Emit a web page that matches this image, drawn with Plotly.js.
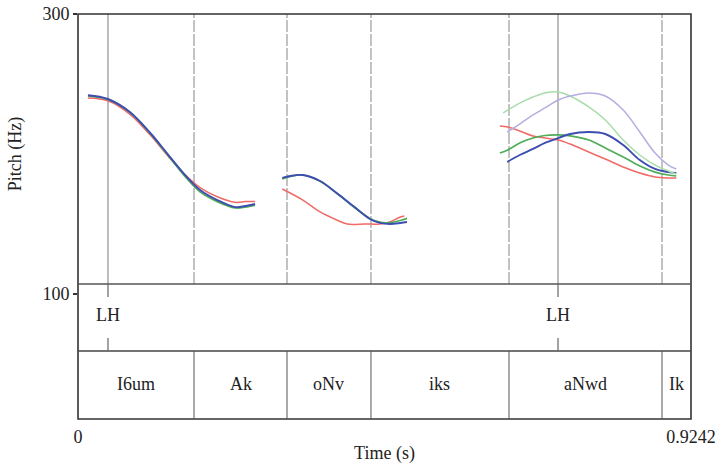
<!DOCTYPE html>
<html>
<head>
<meta charset="utf-8">
<script src="https://cdn.plot.ly/plotly-3.0.1.min.js"></script>
<style>html,body{margin:0;padding:0;background:#fff;}#chart{width:716px;height:464px;}</style>
</head>
<body>
<div id="chart"></div>
<script>
// ---- data ----
const totalDuration = 0.9242;
const pitchRange = [100, 300];

// time samples of each voiced stretch (s)
const seg1Time    = [0.015,0.045,0.078,0.109,0.134,0.164,0.184,0.210,0.237,0.252,0.267];
const seg2Time    = [0.308,0.320,0.339,0.365,0.390,0.415,0.440,0.455,0.470,0.486,0.496];
const seg2RedTime = [0.308,0.339,0.365,0.390,0.406,0.433,0.455,0.470,0.486,0.492];
const seg3Time    = [0.636,0.648,0.666,0.686,0.704,0.724,0.742,0.770,0.795,0.822,0.847,0.870,0.890,0.902];
const seg3LateTime= [0.647,0.666,0.686,0.704,0.724,0.742,0.770,0.795,0.822,0.847,0.870,0.890,0.902];
const seg3LgTime  = [0.641,0.648,0.666,0.686,0.704,0.724,0.742,0.770,0.795,0.822,0.847,0.870,0.890,0.902];

// pitch values (Hz)
const redSeg1   = [240,238,228.5,213.5,199.5,184,176,169.5,165.5,166,166];
const greenSeg1 = [241.5,239,230,214.5,200,182.5,173,166,161.5,162,163.5];
const blueSeg1  = [242,239.3,230,215,200.7,183.6,174.3,167.1,162.1,162.9,164.3];

const redSeg2   = [175,167.1,158.6,152.9,150,150,150,151.4,155,155.7];
const greenSeg2 = [182.2,184,185,180.5,172,162.5,154,151.3,151,152.5,154];
const blueSeg2  = [182.9,184.3,185,180.7,172.1,162.8,153.6,150.8,150,150.7,151.4];

const redSeg3        = [220,219.3,216.4,212.9,211.4,210,207.1,201.4,196.4,190.7,186.4,183.6,182.9,182.9];
const greenSeg3      = [200.7,202.9,207.9,211.4,213.2,213.6,212.9,210,204.3,197.9,191.4,187.1,185,184.3];
const blueSeg3       = [194.3,199.3,203.6,207.9,211.4,214.3,215.7,214.3,206.4,195.7,189.3,187.1,186.4];
const lightGreenSeg3 = [229.3,231.4,236.4,240.7,243.6,244.3,241.4,233.6,224.3,210,199.3,192.1,187.9,185.7];
const lightPurpleSeg3= [215.7,221.4,227.9,232.9,238.6,241.4,243.6,241.4,231.4,215.7,200.7,192.1,189.3];

// TextGrid tiers
const toneTimes  = [0.0452, 0.7237];
const toneLabels = ['LH', 'LH'];
const wordBoundaries = [0.1749, 0.3151, 0.4417, 0.6498, 0.8805];
const wordLabels = ['I6um', 'Ak', 'oNv', 'iks', 'aNwd', 'Ik'];

// ---- figure ----
const join = (...parts) => parts.reduce((acc, p, i) => i ? acc.concat([null], p) : acc.concat(p), []);

const series = [
  {name:'red', t: join(seg1Time, seg2RedTime, seg3Time), hz: join(redSeg1, redSeg2, redSeg3), color:'#f06a66', width:1.5},
  {name:'green', t: join(seg1Time, seg2Time, seg3Time), hz: join(greenSeg1, greenSeg2, greenSeg3), color:'#4fae57', width:1.7},
  {name:'blue', t: join(seg1Time, seg2Time, seg3LateTime), hz: join(blueSeg1, blueSeg2, blueSeg3), color:'#3d4db0', width:1.9},
  {name:'light green', t: seg3LgTime, hz: lightGreenSeg3, color:'#a9dcab', width:1.5},
  {name:'light purple', t: seg3LateTime, hz: lightPurpleSeg3, color:'#b2afe0', width:1.5}
];

const traces = series.map(s => ({
  type:'scatter', mode:'lines', x:s.t, y:s.hz, name:s.name,
  line:{color:s.color, width:s.width, shape:'spline', smoothing:1},
  connectgaps:false, hoverinfo:'skip'
}));

// paper fractions (plot area spans pixel rows 14..419)
const pitchBottom = 0.3333;  // top of tone tier
const tierSplit = 0.1679;    // top of word tier
const pitchDomainBottom = 0.3086;
const tickFrac = 0.032;

const shapes = [];
const edgeColor = '#333';
shapes.push({type:'rect', xref:'paper', yref:'paper', x0:0, x1:1, y0:0, y1:1, line:{color:edgeColor, width:1.6}});
shapes.push({type:'line', xref:'paper', yref:'paper', x0:0, x1:1, y0:pitchBottom, y1:pitchBottom, line:{color:'#555', width:1.3}});
shapes.push({type:'line', xref:'paper', yref:'paper', x0:0, x1:1, y0:tierSplit, y1:tierSplit, line:{color:'#444', width:1.4}});
wordBoundaries.forEach(b => {
  shapes.push({type:'line', xref:'x', yref:'paper', x0:b, x1:b, y0:pitchBottom, y1:1, line:{color:'#aaaaaa', width:1.4, dash:'12px,2px'}, layer:'below'});
  shapes.push({type:'line', xref:'x', yref:'paper', x0:b, x1:b, y0:0, y1:tierSplit, line:{color:'#555', width:1}});
});
toneTimes.forEach(t => {
  shapes.push({type:'line', xref:'x', yref:'paper', x0:t, x1:t, y0:pitchBottom, y1:1, line:{color:'#999', width:1.3}, layer:'below'});
  shapes.push({type:'line', xref:'x', yref:'paper', x0:t, x1:t, y0:pitchBottom - tickFrac, y1:pitchBottom, line:{color:'#666', width:1.2}});
  shapes.push({type:'line', xref:'x', yref:'paper', x0:t, x1:t, y0:tierSplit, y1:tierSplit + tickFrac, line:{color:'#666', width:1.2}});
});

const textFont = {family:'Liberation Serif, Times New Roman, serif', size:18, color:'#222'};
const annotations = [];
toneTimes.forEach((t, i) => annotations.push({
  xref:'x', yref:'paper', x:t, y:(pitchBottom + tierSplit)/2 + 0.005, yanchor:'middle', xanchor:'center',
  text:toneLabels[i], showarrow:false, font:textFont
}));
const edges = [0].concat(wordBoundaries, [totalDuration]);
wordLabels.forEach((w, i) => annotations.push({
  xref:'x', yref:'paper', x:(edges[i] + edges[i+1])/2, y:tierSplit/2 + 0.002, yanchor:'middle', xanchor:'center',
  text:w, showarrow:false, font:textFont
}));

const layout = {
  width:716, height:464,
  margin:{l:78, r:25, t:14, b:45},
  paper_bgcolor:'#fff', plot_bgcolor:'#fff',
  showlegend:false,
  font:textFont,
  xaxis:{
    range:[0, totalDuration], domain:[0,1], anchor:'free', position:0,
    showgrid:false, zeroline:false, showline:false,
    tickvals:[0, totalDuration], ticktext:['0', String(totalDuration)],
    ticks:'', tickfont:textFont, automargin:false, ticklabelstandoff:5,
    title:{text:'Time (s)', font:textFont, standoff:3}
  },
  yaxis:{
    range:pitchRange, domain:[pitchDomainBottom, 1],
    showgrid:false, zeroline:false, showline:false,
    tickvals:pitchRange, ticktext:pitchRange.map(String),
    ticks:'outside', ticklen:4, tickcolor:'#333', tickwidth:1.3,
    tickfont:textFont, automargin:false,
    title:{text:'Pitch (Hz)', font:textFont, standoff:16}
  },
  shapes:shapes,
  annotations:annotations
};

Plotly.newPlot('chart', traces, layout, {displayModeBar:false, staticPlot:true});
</script>
</body>
</html>
